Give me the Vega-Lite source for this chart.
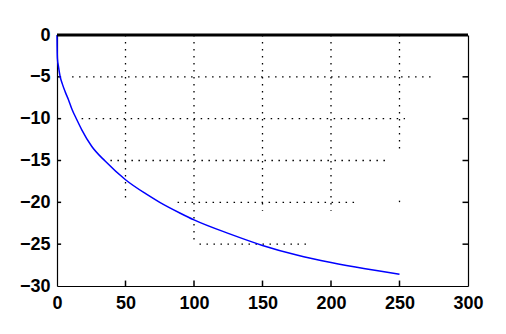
{
  "$schema": "https://vega.github.io/schema/vega-lite/v6.json",
  "width": 411,
  "height": 251,
  "autosize": "none",
  "padding": {"left": 57, "top": 35, "right": 38, "bottom": 48},
  "background": "white",
  "config": {
    "view": {"stroke": null},
    "axis": {
      "labelFont": "Liberation Sans Narrow, Liberation Sans",
      "labelFontSize": 18,
      "labelFontWeight": "bold",
      "labelColor": "black",
      "labelFlush": false,
      "domainColor": "black",
      "domainWidth": 1.2,
      "ticks": false,
      "grid": false,
      "title": null
    }
  },
  "datasets": {
    "curve": [
      {"x": 0, "y": 0},
      {"x": 0.1, "y": -1.5},
      {"x": 0.3, "y": -2.8},
      {"x": 1, "y": -3.7},
      {"x": 2.2, "y": -4.9},
      {"x": 4, "y": -5.9},
      {"x": 6, "y": -6.8},
      {"x": 8.3, "y": -7.7},
      {"x": 11, "y": -8.9},
      {"x": 14.4, "y": -10.1},
      {"x": 18, "y": -11.3},
      {"x": 25.3, "y": -13.3},
      {"x": 35.3, "y": -15.1},
      {"x": 50, "y": -17.3},
      {"x": 65, "y": -19.0},
      {"x": 75, "y": -20.0},
      {"x": 90, "y": -21.3},
      {"x": 100, "y": -22.1},
      {"x": 126.5, "y": -23.8},
      {"x": 150, "y": -25.15},
      {"x": 175, "y": -26.3},
      {"x": 200, "y": -27.2},
      {"x": 225, "y": -27.95},
      {"x": 250, "y": -28.6}
    ],
    "zero": [
      {"x": 0, "y": 0},
      {"x": 300, "y": 0}
    ],
    "xticks": [{"v": 50}, {"v": 100}, {"v": 150}, {"v": 200}, {"v": 250}],
    "yticks": [{"v": -5}, {"v": -10}, {"v": -15}, {"v": -20}, {"v": -25}],
    "grid": [
      {"x": 11, "x2": 275, "y": -5, "y2": -5},
      {"x": 18, "x2": 254, "y": -10, "y2": -10},
      {"x": 39, "x2": 242, "y": -15, "y2": -15},
      {"x": 88, "x2": 217, "y": -20, "y2": -20},
      {"x": 104, "x2": 185, "y": -25, "y2": -25},
      {"x": 50, "x2": 50, "y": 0, "y2": -20},
      {"x": 100, "x2": 100, "y": 0, "y2": -25},
      {"x": 150, "x2": 150, "y": 0, "y2": -21},
      {"x": 200, "x2": 200, "y": 0, "y2": -21},
      {"x": 250, "x2": 250, "y": 0, "y2": -14},
      {"x": 250, "x2": 250, "y": -19.8, "y2": -20.2}
    ]
  },
  "resolve": {"axis": {"x": "independent", "y": "independent"}},
  "layer": [
    {
      "data": {"name": "grid"},
      "mark": {"type": "rule", "color": "black", "strokeWidth": 1.3, "strokeDash": [1.5, 5.5]},
      "encoding": {
        "x": {"field": "x", "type": "quantitative", "scale": {"domain": [0, 300], "nice": false},
          "axis": {"orient": "bottom", "values": [0, 50, 100, 150, 200, 250, 300], "labelPadding": 8, "format": "d"}},
        "x2": {"field": "x2"},
        "y": {"field": "y", "type": "quantitative", "scale": {"domain": [-30, 0], "nice": false},
          "axis": {"orient": "left", "values": [0, -5, -10, -15, -20, -25, -30], "labelPadding": 7, "format": "d"}},
        "y2": {"field": "y2"}
      }
    },
    {
      "data": {"name": "xticks"},
      "mark": {"type": "rule", "color": "black", "strokeWidth": 1.5},
      "encoding": {
        "x": {"field": "v", "type": "quantitative", "axis": null},
        "y": {"datum": -30, "type": "quantitative", "axis": null},
        "y2": {"datum": -29.35}
      }
    },
    {
      "data": {"name": "yticks"},
      "mark": {"type": "rule", "color": "black", "strokeWidth": 1.5},
      "encoding": {
        "y": {"field": "v", "type": "quantitative", "axis": null},
        "x": {"datum": 0, "type": "quantitative", "axis": null},
        "x2": {"datum": 3}
      }
    },
    {
      "data": {"name": "yticks"},
      "mark": {"type": "rule", "color": "black", "strokeWidth": 1.5},
      "encoding": {
        "y": {"field": "v", "type": "quantitative", "axis": null},
        "x": {"datum": 300, "type": "quantitative", "axis": null},
        "x2": {"datum": 296}
      }
    },
    {
      "data": {"name": "curve"},
      "mark": {"type": "line", "color": "#0000ff", "strokeWidth": 1.5, "interpolate": "monotone"},
      "encoding": {
        "x": {"field": "x", "type": "quantitative", "axis": null},
        "y": {"field": "y", "type": "quantitative",
          "axis": {"orient": "right", "values": [0, -30], "labels": false}}
      }
    },
    {
      "data": {"name": "zero"},
      "mark": {"type": "line", "color": "black", "strokeWidth": 3},
      "encoding": {
        "x": {"field": "x", "type": "quantitative", "axis": null},
        "y": {"field": "y", "type": "quantitative", "axis": null}
      }
    }
  ]
}
